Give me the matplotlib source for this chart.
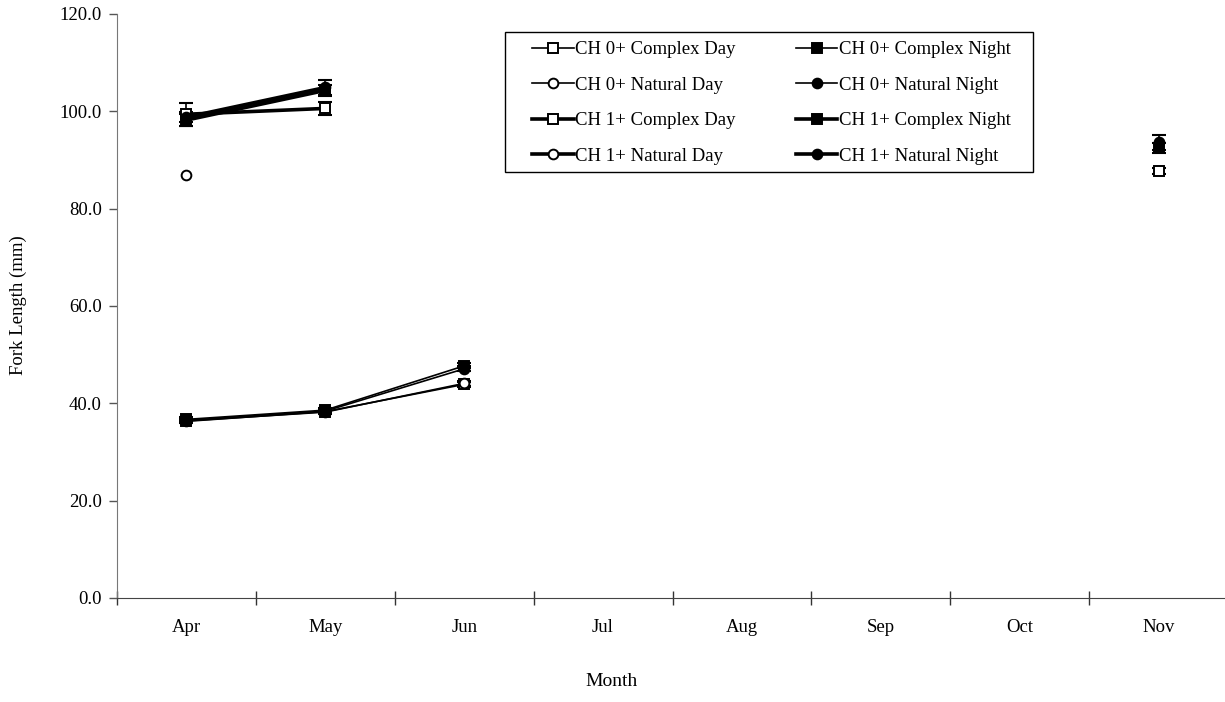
import numpy as np
import matplotlib
matplotlib.use("Agg")
import matplotlib.pyplot as plt
from matplotlib.patches import Rectangle

nan = np.nan
months = ['Apr', 'May', 'Jun', 'Jul', 'Aug', 'Sep', 'Oct', 'Nov']

ch0_complex_day = [36.3, 38.3, 43.9, nan, nan, nan, nan, nan]
ch0_complex_night = [36.7, 38.6, 47.7, nan, nan, nan, nan, nan]
ch0_natural_day = [36.4, 38.2, 44.1, nan, nan, nan, nan, nan]
ch0_natural_night = [36.5, 38.4, 47.1, nan, nan, nan, nan, nan]
ch1_complex_day = [99.4, 100.6, nan, nan, nan, nan, nan, 87.8]
ch1_complex_night = [98.2, 104.3, nan, nan, nan, nan, nan, 92.4]
ch1_natural_day = [87.0, nan, nan, nan, nan, nan, nan, nan]
ch1_natural_night = [98.8, 104.9, nan, nan, nan, nan, nan, 93.6]

ch0_err = [0.4, 0.4, 0.5, nan, nan, nan, nan, nan]
ch1_complex_day_err = [2.4, 1.3, nan, nan, nan, nan, nan, 0.6]
ch1_complex_night_err = [1.2, 1.2, nan, nan, nan, nan, nan, 1.0]
ch1_natural_night_err = [1.0, 1.5, nan, nan, nan, nan, nan, 1.5]

labels = ['CH 0+ Complex Day', 'CH 0+ Complex Night', 'CH 0+ Natural Day', 'CH 0+ Natural Night',
          'CH 1+ Complex Day', 'CH 1+ Complex Night', 'CH 1+ Natural Day', 'CH 1+ Natural Night']

plt.rcParams['font.family'] = ['Liberation Serif', 'DejaVu Serif']

W, H = 1225, 702
fig = plt.figure(figsize=(W / 100, H / 100), dpi=100)
ax = fig.add_axes([117/W, 104/H, 1111/W, 584/H])

x = np.arange(len(months))

series = [
    (ch0_complex_day, ch0_err, 's', 'white', 1.2, labels[0]),
    (ch0_complex_night, ch0_err, 's', 'black', 1.2, labels[1]),
    (ch0_natural_day, ch0_err, 'o', 'white', 1.2, labels[2]),
    (ch0_natural_night, ch0_err, 'o', 'black', 1.2, labels[3]),
    (ch1_complex_day, ch1_complex_day_err, 's', 'white', 2.6, labels[4]),
    (ch1_complex_night, ch1_complex_night_err, 's', 'black', 2.6, labels[5]),
    (ch1_natural_day, None, 'o', 'white', 2.6, labels[6]),
    (ch1_natural_night, ch1_natural_night_err, 'o', 'black', 2.6, labels[7]),
]

handles = {}
for vals, err, mk, fc, lw, lab in series:
    v = np.array(vals, dtype=float)
    if err is not None:
        ax.errorbar(x, v, yerr=np.array(err, dtype=float), fmt='none', ecolor='black',
                    elinewidth=1.2, capsize=5, capthick=1.5, zorder=2)
    h, = ax.plot(x, v, color='black', lw=lw, marker=mk, markersize=7,
                 markerfacecolor=fc, markeredgecolor='black', markeredgewidth=1.4,
                 label=lab, zorder=3)
    handles[lab] = h

ax.set_xlim(-0.5, 7.5)
ax.set_ylim(0, 120)
ax.set_yticks(np.arange(0, 121, 20))
ax.set_yticklabels([f'{t:.1f}' for t in np.arange(0, 121, 20)], fontsize=13.5)
ax.set_xticks(np.arange(-0.5, 8.0, 1.0))
ax.set_xticklabels([])
ax.set_xticks(x, minor=True)
ax.set_xticklabels(months, minor=True, fontsize=13.5)
ax.tick_params(axis='x', which='major', direction='inout', length=10, width=1, color='#333333')
ax.tick_params(axis='x', which='minor', length=0, pad=15)
ax.tick_params(axis='y', direction='out', length=6, width=1, color='#555555', pad=5)

for s in ['top', 'right']:
    ax.spines[s].set_visible(False)
ax.spines['left'].set_color('#777777')
ax.spines['bottom'].set_color('#444444')

fig.text(18/W, 1 - 305/H, 'Fork Length (mm)', rotation=90, ha='center', va='center', fontsize=13.5)
fig.text(612/W, 1 - 681/H, 'Month', ha='center', va='center', fontsize=14)

# row-wise order as in the reference (matplotlib fills columns first)
order = [labels[0], labels[2], labels[4], labels[6], labels[1], labels[3], labels[5], labels[7]]
leg = fig.legend(handles=[handles[l] for l in order], labels=order, ncol=2,
                 loc='upper left', bbox_to_anchor=(521/W, 1 - 30/H),
                 bbox_transform=fig.transFigure, borderaxespad=0,
                 frameon=False, fontsize=13.5,
                 handlelength=2.2, handletextpad=0.1, columnspacing=3.2,
                 labelspacing=0.98, borderpad=0.6, markerscale=1.0)

fig.add_artist(Rectangle((505/W, 1 - 172/H), 528/W, 140/H, transform=fig.transFigure,
                         fill=False, edgecolor='black', linewidth=1.0))

fig.savefig('out.png', dpi=100)
